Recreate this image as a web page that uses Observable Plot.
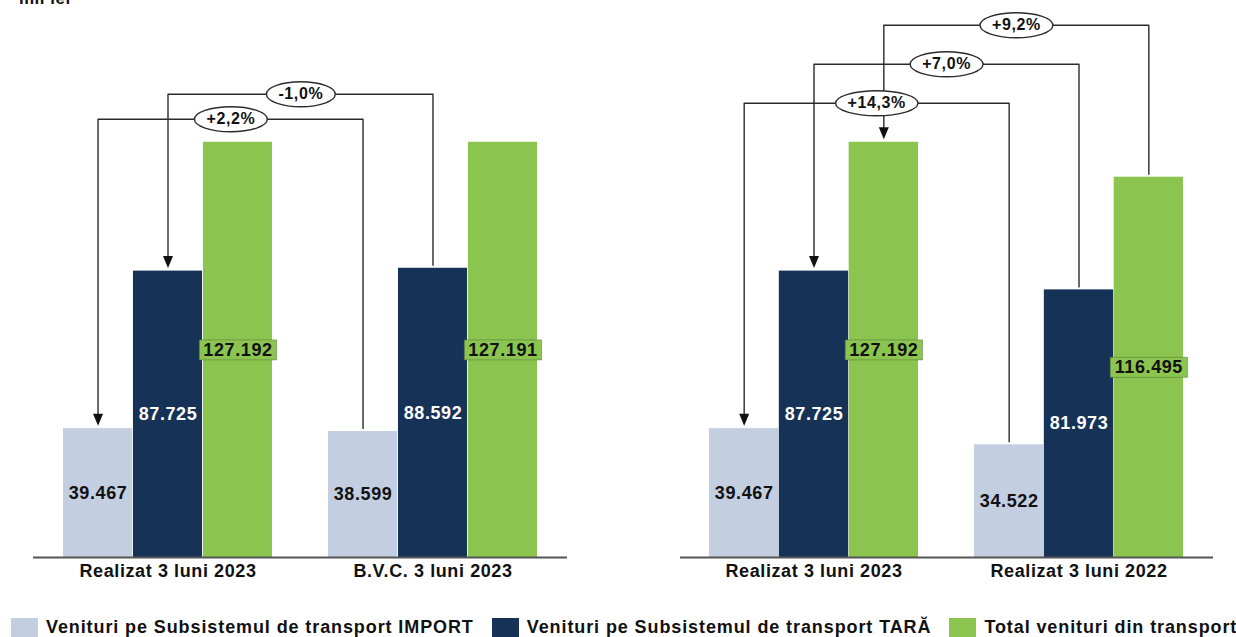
<!DOCTYPE html>
<html><head><meta charset="utf-8">
<script src="https://cdn.jsdelivr.net/npm/d3@7"></script>
<script src="https://cdn.jsdelivr.net/npm/@observablehq/plot@0.6"></script>
<style>
body{margin:0;background:#fff;font-family:"Liberation Sans",Arial,sans-serif;color:#111;}
#wrap{position:relative;width:1236px;height:637px;overflow:hidden;}
#unit{position:absolute;left:19px;top:-11px;font-weight:bold;font-size:17px;letter-spacing:0.5px;}
#charts{position:absolute;left:0;top:0;display:flex;}
#legend{position:absolute;left:11px;top:617px;display:flex;align-items:flex-start;font-weight:bold;font-size:18px;letter-spacing:0.9px;white-space:nowrap;}
.item{display:flex;align-items:flex-start;margin-right:18px;}
.sw{width:27px;height:21px;margin-right:8px;margin-top:1px;}
.lab{line-height:21px;}
svg text{letter-spacing:0.6px;}
</style></head>
<body><div id="wrap"><div id="charts"></div><div id="unit">mil lei</div><div id="legend"></div></div>
<script>
// ---- data ----
const seriesNames = ["Venituri pe Subsistemul de transport IMPORT", "Venituri pe Subsistemul de transport TARĂ", "Total venituri din transport"];
const seriesColors = ["#c3cee0", "#163257", "#8bc54f"];
const labelColors = ["#111", "#fff", "#111"];

const leftCategories = ["Realizat 3 luni 2023", "B.V.C. 3 luni 2023"];
const leftImport = [39467, 38599];
const leftTara = [87725, 88592];
const leftTotal = [127192, 127191];
const leftChanges = ["+2,2%", "-1,0%", null];

const rightCategories = ["Realizat 3 luni 2023", "Realizat 3 luni 2022"];
const rightImport = [39467, 34522];
const rightTara = [87725, 81973];
const rightTotal = [127192, 116495];
const rightChanges = ["+14,3%", "+7,0%", "+9,2%"];

// ---- layout / style ----
const W = 618, H = 590, MT = 2, MB = 33;
const yDomain = [0, 170000];
const fmt = d3.formatLocale({decimal: ",", thousands: ".", grouping: [3], currency: ["", ""]}).format(",d");
const FONT = "Liberation Sans, Arial, sans-serif";
const LINE = "#2b2b2b";

const canvas = document.createElement("canvas").getContext("2d");
function textWidth(t, size) { canvas.font = `bold ${size}px Liberation Sans`; return canvas.measureText(t).width + t.length * 0.6; }

function ellipseSymbol(rx, ry) {
  const k = 0.5523;
  return {draw(ctx) {
    ctx.moveTo(rx, 0);
    ctx.bezierCurveTo(rx, ry * k, rx * k, ry, 0, ry);
    ctx.bezierCurveTo(-rx * k, ry, -rx, ry * k, -rx, 0);
    ctx.bezierCurveTo(-rx, -ry * k, -rx * k, -ry, 0, -ry);
    ctx.bezierCurveTo(rx * k, -ry, rx, -ry * k, rx, 0);
    ctx.closePath();
  }};
}
function rectSymbol(w, h) {
  return {draw(ctx) { ctx.moveTo(-w / 2, -h / 2); ctx.lineTo(w / 2, -h / 2); ctx.lineTo(w / 2, h / 2); ctx.lineTo(-w / 2, h / 2); ctx.closePath(); }};
}
const arrowSymbol = {draw(ctx) { ctx.moveTo(0, 0); ctx.lineTo(-5, -12); ctx.lineTo(5, -12); ctx.closePath(); }};

function panel({categories, series, changes, rises, marginLeft, marginRight}) {
  const xOpts = {type: "band", domain: categories, paddingInner: 0.21, paddingOuter: 0.11};
  const xs = Plot.scale({x: {...xOpts, range: [marginLeft, W - marginRight]}});
  const ys = Plot.scale({y: {domain: yDomain, range: [H - MB, MT]}});
  const bw = xs.bandwidth, step = xs.step, sw = bw / 3;
  const off = s => (s - 1) * sw;
  const rows = [];
  categories.forEach((c, i) => series.forEach((vals, s) => rows.push({cat: c, s, value: vals[i]})));
  const marks = [];
  for (let s = 0; s < 3; s++) {
    marks.push(Plot.barY(rows.filter(r => r.s === s), {x: "cat", y: "value", fill: seriesColors[s], insetLeft: s * sw, insetRight: (2 - s) * sw}));
  }
  marks.push(Plot.ruleY([0], {stroke: "#555", strokeWidth: 2}));
  // value labels
  for (let s = 0; s < 3; s++) {
    const data = rows.filter(r => r.s === s);
    if (s === 2) {
      marks.push(Plot.dot(data, {x: "cat", y: d => d.value / 2, dx: off(s), symbol: rectSymbol(textWidth("127.192", 18) + 8, 20), fill: seriesColors[s], stroke: "#55703a", strokeOpacity: 0.5, strokeWidth: 1}));
    }
    marks.push(Plot.text(data, {x: "cat", y: d => d.value / 2, dx: off(s), text: d => fmt(d.value), fill: labelColors[s], fontSize: 18, fontWeight: "bold", fontFamily: FONT}));
  }
  // brackets
  const topPx = ys.apply(d3.max(series.flat()));
  const gap = 3;
  const lineMarks = [], bubbleMarks = [], arrowMarks = [];
  changes.forEach((label, s) => {
    if (!label) return;
    const v0 = series[s][0], v1 = series[s][1];
    const level = ys.invert(topPx - rises[s]);
    const pts = [
      {cat: categories[0], y: ys.invert(ys.apply(v0) - gap - 4)},
      {cat: categories[0], y: level},
      {cat: categories[1], y: level},
      {cat: categories[1], y: ys.invert(ys.apply(v1) - gap)}
    ];
    lineMarks.push(Plot.line(pts, {x: "cat", y: "y", dx: off(s), stroke: LINE, strokeWidth: 1.4}));
    const tw = textWidth(label, 16);
    bubbleMarks.push(Plot.dot([{cat: categories[0], y: level}], {x: "cat", y: "y", dx: off(s) + step / 2, symbol: ellipseSymbol(tw / 2 + 12, 12.5), fill: "white", stroke: LINE, strokeWidth: 1.4}));
    bubbleMarks.push(Plot.text([{cat: categories[0], y: level}], {x: "cat", y: "y", dx: off(s) + step / 2, text: () => label, fontSize: 16, fontWeight: "bold", fill: "#111", fontFamily: FONT}));
    arrowMarks.push(Plot.dot([{cat: categories[0], y: v0}], {x: "cat", y: "y", dx: off(s), dy: -gap, symbol: arrowSymbol, fill: "#111", stroke: "none"}));
  });
  marks.push(...lineMarks, ...bubbleMarks, ...arrowMarks);
  marks.push(Plot.axisX({tickSize: 0, tickPadding: 7, fontSize: 18, fontWeight: "bold", fontFamily: FONT, label: null}));
  return Plot.plot({
    width: W, height: H, marginTop: MT, marginBottom: MB, marginLeft, marginRight,
    style: {fontFamily: FONT, color: "#111", background: "white", overflow: "visible"},
    x: {...xOpts, axis: null},
    y: {domain: yDomain, axis: null},
    marks
  });
}

const charts = document.getElementById("charts");
charts.append(panel({categories: leftCategories, series: [leftImport, leftTara, leftTotal], changes: leftChanges, rises: [23, 48, 0], marginLeft: 33, marginRight: 51}));
charts.append(panel({categories: rightCategories, series: [rightImport, rightTara, rightTotal], changes: rightChanges, rises: [39, 78, 117], marginLeft: 62, marginRight: 23}));

const legend = document.getElementById("legend");
seriesNames.forEach((name, i) => {
  const it = document.createElement("div"); it.className = "item";
  const sw = document.createElement("div"); sw.className = "sw"; sw.style.background = seriesColors[i];
  const lab = document.createElement("div"); lab.className = "lab"; lab.textContent = name;
  it.append(sw, lab); legend.append(it);
});
</script>
</body></html>
